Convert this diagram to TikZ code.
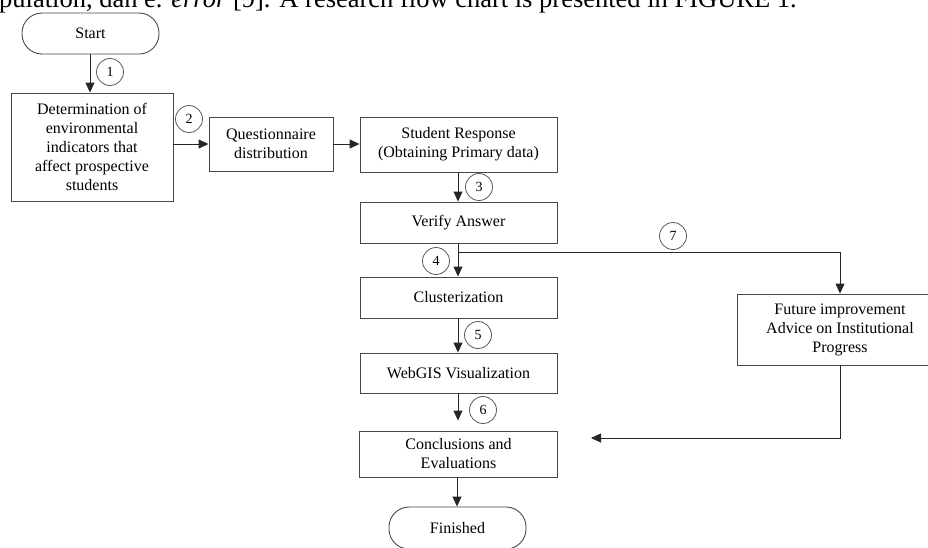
\documentclass[tikz,border=0pt]{standalone}
\usepackage{fontspec}
\setmainfont{Liberation Serif}
\usetikzlibrary{arrows.meta}
\begin{document}
\begin{tikzpicture}[x=1pt,y=-1pt,
  box/.style={draw=black!72, line width=0.9pt, align=center, inner sep=0pt,
    font=\fontsize{16}{19}\selectfont},
  term/.style={box, rounded corners=20pt},
  num/.style={circle, draw=black!65, line width=0.8pt, minimum size=27pt,
    inner sep=0pt, font=\fontsize{14}{14}\selectfont},
  arr/.style={draw=black!85, line width=0.9pt, -{Triangle[length=10pt,width=9pt]}},
  body/.style={anchor=base west, inner sep=0pt, font=\fontsize{26.5}{30}\selectfont}
]
\useasboundingbox (0,0) rectangle (928,547);

\node[body] (txt) at (-1,7) {pulation, dan e. \textit{error} [9]. A research flow chart is presented in FIGURE 1.};

\node[term, minimum width=137pt, minimum height=41pt] (start) at (90.5,33.5) {Start};
\node[box, minimum width=162pt, minimum height=108pt] (det) at (92,147)
  {Determination of\\environmental\\indicators that\\affect prospective\\students};
\node[box, minimum width=124pt, minimum height=54pt] (quest) at (271,144)
  {Questionnaire\\distribution};
\node[box, minimum width=197pt, minimum height=55pt] (resp) at (458.5,144.5)
  {Student Response\\(Obtaining Primary data)};
\node[box, minimum width=197pt, minimum height=41pt] (verify) at (458.5,222.5) {Verify Answer};
\node[box, minimum width=197pt, minimum height=41pt] (clust) at (458.5,297.5) {Clusterization};
\node[box, minimum width=197pt, minimum height=40pt] (web) at (458.5,373) {WebGIS Visualization};
\node[box, minimum width=198pt, minimum height=46pt] (concl) at (458.5,454)
  {Conclusions and\\Evaluations};
\node[term, minimum width=137pt, minimum height=42pt] (fin) at (457.5,528) {Finished};
\node[box, minimum width=206pt, minimum height=71pt] (future) at (840,329.5)
  {Future improvement\\Advice on Institutional\\Progress};

\coordinate (j) at (458,252);
\coordinate (e) at (591,438);

\draw[arr] (start.south -| 90,0) -- (det.north -| 90,0);
\draw[arr] (quest.west -| det.east) -- (quest.west);
\draw[arr] (quest.east) -- (resp.west |- quest.east);
\draw[arr] (resp.south -| 458,0) -- (verify.north -| 458,0);
\draw[arr] (verify.south -| 458,0) -- (clust.north -| 458,0);
\draw[arr] (j) -| (future.north);
\draw[arr] (clust.south -| 458,0) -- (web.north -| 458,0);
\draw[arr, shorten >=10pt] (web.south -| 458,0) -- (concl.north -| 458,0);
\draw[arr] (concl.south -| 457,0) -- (fin.north -| 457,0);
\draw[arr] (future.south) |- (e);

\node[num] (c1) at (110,72) {1};
\node[num] (c2) at (189,119) {2};
\node[num] (c3) at (479,187) {3};
\node[num] (c4) at (436,261) {4};
\node[num] (c5) at (478,335) {5};
\node[num] (c6) at (483,410) {6};
\node[num] (c7) at (673,236) {7};
\end{tikzpicture}
\end{document}
